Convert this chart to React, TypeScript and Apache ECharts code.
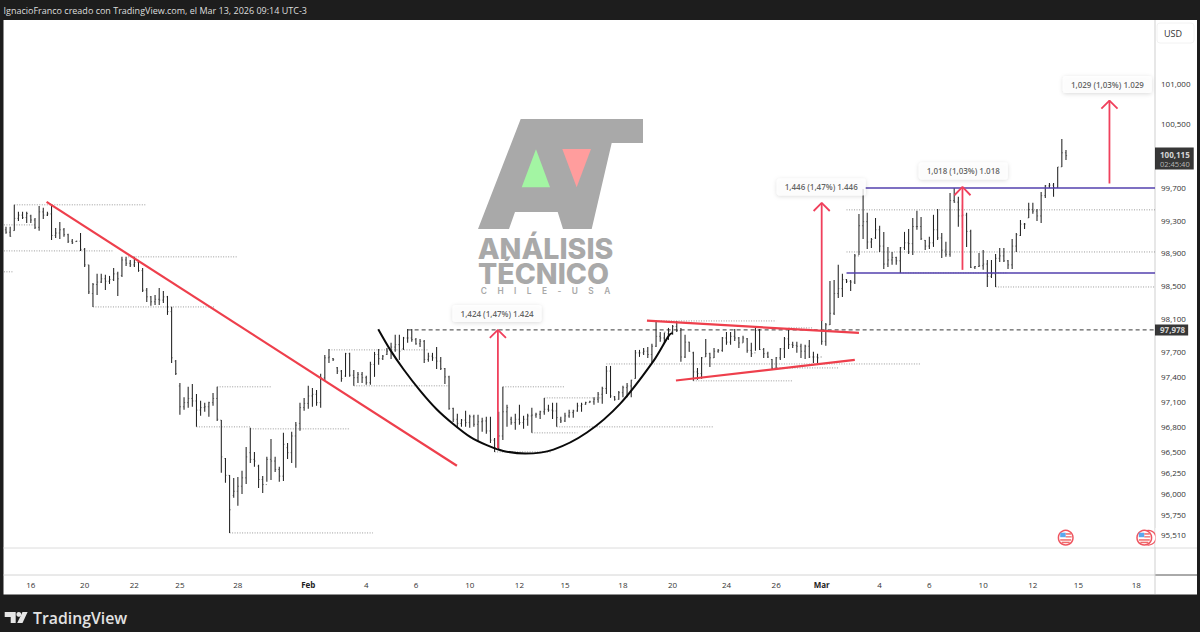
import React, { useEffect, useRef } from "react";
import * as echarts from "echarts";

const highs = [99236,99236,99507,99421,99421,99421,99384,99345,99494,99470,99421,99507,99223,99297,99223,99150,99088,99064,99162,98977,
98770,98549,98660,98660,98648,98635,98733,98685,98868,98868,98831,98868,98831,98733,98488,98391,98403,98488,98452,98391,
98258,97615,97337,97166,97290,97325,97204,97121,97097,97109,97216,97290,96892,96438,96235,96199,96211,96283,96569,96797,
96509,96355,96223,96450,96665,96450,96331,96737,96617,96749,96868,97097,97157,97302,97277,97253,97447,97675,97748,97639,
97530,97494,97700,97700,97494,97470,97470,97422,97591,97712,97748,97675,97760,97821,97918,97918,97893,97990,97990,97881,
97869,97857,97700,97700,97772,97651,97518,97422,97037,96965,96904,97001,96953,96953,96953,96917,96929,96929,96677,96989,
97290,97073,96929,96965,97073,96941,96965,97037,96977,97001,97157,97073,97097,97097,96929,96977,97013,97013,97097,97097,
97109,97121,97166,97228,97290,97542,97542,97180,97240,97302,97337,97374,97736,97736,97760,97772,97809,98087,97954,97942,
98002,98038,98087,98002,97918,97833,97712,97518,97651,97869,97700,97760,97748,97893,97954,97954,97990,97893,97906,97881,
97821,98002,97990,97760,97712,97627,97651,97760,97893,97990,97833,97833,97809,97797,97857,97712,97688,98099,98063,98574,
98586,98770,98660,98598,98586,98904,99395,99703,99408,99100,99345,99248,99174,98990,98928,98868,98990,99174,99211,99345,
99433,99358,99076,99113,99384,99457,99162,99052,99654,99715,99605,99507,99408,99199,98757,98916,98953,98831,98831,98904,
98977,98977,98831,99088,99162,99321,99284,99531,99531,99457,99666,99753,99777,99777,99975,100322,100185];

const lows = [99150,99113,99187,99309,99333,99284,99284,99211,99187,99333,99370,99076,99100,99088,99113,99039,99027,99052,98941,98745,
98415,98257,98403,98549,98464,98537,98574,98391,98623,98757,98745,98745,98685,98440,98318,98270,98282,98282,98306,98160,
97578,97432,96953,97013,97037,97049,96809,96941,96989,96929,97061,96880,96260,96140,95546,95962,95867,96009,96128,96378,
96331,96080,96020,96152,96175,96271,96152,96163,96426,96378,96319,96761,97001,97025,97049,97061,97037,97362,97578,97603,
97445,97350,97410,97410,97302,97337,97337,97314,97314,97410,97555,97615,97675,97627,97712,97615,97736,97821,97833,97797,
97772,97578,97591,97603,97506,97494,97325,97013,96868,96797,96809,96809,96797,96809,96641,96749,96725,96617,96509,96533,
96653,96809,96833,96773,96833,96785,96821,96737,96917,96904,96953,96989,96904,96809,96856,96868,96917,96917,96989,96989,
97073,97097,97073,97097,97085,97204,97157,97121,97133,97166,97166,97166,97386,97651,97675,97639,97578,97772,97833,97821,
97857,97918,97954,97591,97639,97712,97362,97374,97386,97651,97530,97639,97700,97712,97797,97797,97845,97760,97821,97700,
97651,97724,97736,97639,97639,97494,97518,97615,97639,97748,97760,97700,97639,97627,97639,97578,97578,97797,97785,98038,
98160,98367,98379,98549,98452,98537,98892,99088,98965,98977,99088,98928,98721,98745,98770,98770,98672,98953,98904,98892,
99199,99076,98953,98965,98990,99076,98855,98868,98868,99531,99236,99223,98990,98733,98721,98745,98709,98500,98610,98500,
98806,98806,98721,98721,98928,99125,99211,99345,99396,99309,99284,99592,99715,99605,99715,99975,100062];

const opens = [99200,99170,99190,99340,99380,99350,99370,99320,99230,99420,99380,99395,99130,99160,99200,99140,99060,99055,99060,98960,
98770,98420,98530,98560,98600,98570,98590,98660,98640,98830,98790,98770,98800,98700,98460,98380,98320,98350,98340,98380,
98200,97600,97300,97050,97100,97150,97120,97010,97040,97050,97100,97150,96890,96430,96230,95990,96040,96100,96200,96500,
96420,96340,96180,96120,96420,96400,96300,96220,96560,96500,96700,96850,97040,97090,97180,97200,97100,97400,97640,97630,
97520,97480,97420,97690,97430,97400,97440,97400,97340,97560,97680,97630,97680,97720,97770,97800,97750,97880,97880,97860,
97810,97840,97620,97660,97640,97600,97510,97410,97030,96900,96850,96890,96860,96930,96840,96870,96880,96760,96650,96560,
96700,96990,96900,96860,96900,96860,96900,96940,96950,96960,96990,97020,97010,97000,96900,96880,96940,96980,97000,97060,
97080,97100,97110,97140,97200,97270,97480,97170,97140,97220,97280,97300,97390,97700,97700,97720,97680,97780,97900,97880,
97930,97960,98020,97970,97650,97830,97700,97470,97450,97650,97690,97640,97720,97730,97880,97830,97900,97880,97820,97870,
97730,97700,97970,97740,97690,97620,97510,97640,97750,97870,97800,97790,97780,97720,97780,97650,97650,97650,97840,98040,
98180,98420,98480,98590,98570,98560,98880,99250,99300,99050,99100,99200,99000,98780,98830,98860,98820,98980,99040,99030,
99240,99240,99070,99000,99040,99200,99100,98950,98900,99560,99540,99370,99380,99180,98740,98750,98760,98780,98630,98660,
98850,98880,98820,98770,99000,99130,99270,99345,99450,99430,99370,99620,99740,99750,99720,99975,100150];

const closes = [99170,99120,99340,99380,99350,99400,99320,99230,99420,99380,99395,99130,99160,99200,99140,99060,99040,99060,98960,98770,
98440,98530,98560,98600,98570,98590,98660,98600,98830,98790,98770,98800,98700,98460,98380,98320,98350,98340,98380,98200,
97640,97450,97050,97100,97150,97120,97010,97040,97050,97100,97150,96900,96450,96230,95820,96040,96100,96200,96450,96420,
96400,96180,96120,96420,96400,96300,96220,96600,96500,96700,96830,97040,97090,97180,97200,97100,97400,97640,97650,97620,
97480,97390,97690,97430,97400,97440,97400,97340,97560,97680,97630,97660,97720,97770,97800,97720,97880,97880,97860,97810,
97840,97620,97660,97640,97600,97510,97410,97030,96900,96850,96890,96860,96930,96840,96870,96880,96760,96650,96560,96700,
96990,97040,96860,96900,96860,96900,96940,96950,96960,96990,97020,97010,97000,96920,96880,96940,96980,97000,97060,97080,
97100,97110,97140,97200,97270,97480,97180,97140,97220,97280,97300,97370,97700,97700,97720,97680,97780,97900,97880,97950,
97960,98020,97970,97650,97830,97720,97470,97450,97640,97690,97640,97720,97730,97880,97830,97900,97880,97820,97880,97730,
97690,97970,97740,97690,97650,97510,97640,97750,97870,97800,97790,97780,97720,97780,97650,97650,97640,97840,98040,98180,
98420,98480,98590,98570,98560,98880,99250,99300,99050,99080,99200,99000,98780,98830,98860,98820,98980,99040,99030,99240,
99240,99090,99000,99040,99200,99100,98950,98900,99560,99540,99370,99380,99180,98740,98750,98760,98780,98630,98660,98850,
98880,98820,98770,99000,99140,99270,99270,99450,99430,99370,99620,99740,99750,99720,99975,100150,100115];

const timeTickBars = [6,19,31,42,56,73,87,99,112,124,135,149,161,174,186,197,211,223,236,248,259,273];
const timeTickLabels = ["16","20","22","25","28","Feb","4","6","10","12","15","18","20","24","26","Mar","4","6","10","12","15","18"];
const priceTicks = [101000,100500,99700,99300,98900,98500,98100,97700,97400,97100,96800,96500,96250,96000,95750,95510];

// [first bar, last bar, price]
const dottedLevels = [
  [2,34,99507],[-0.5,7,99260],[-0.5,26,98941],[29.5,56,98868],[-0.5,1.7,98685],[21,50.5,98257],[51,64,97290],
  [46,59,96809],[59,83,96785],[54,88.6,95546],[78,102,97736],[84,107,97302],[120,134.8,97290],[130,144,97157],
  [145,221,97566],[133,171,96809],[127,138,96737],[118,131.6,96509],[166,190,97362],[185,201,97518],[157,186,98087],
  [189,195,98002],[203,277.5,99445],[203,277.5,98928],[239,277.5,98500],[216,242,98672],
];
const purpleLevels = [[207.5,277.5,99715],[203,277.5,98672]];
const lastPrice = 100115;
const dashedPrice = 97978;
const dashedStartBar = 97;
const redLines = [
  [[9.8,99543],[108.9,96344]],
  [[154.8,98090],[206,97942]],
  [[161.8,97366],[205,97615]],
];
// [bar, base price, tip price, price where the head's barbs end]
const arrows = [
  [118.8,96554,97978,97881],
  [197,98085,99531,99431],
  [231,98709,99727,99625],
  [266.5,99770,100800,100700],
];
const roundPoints = [
  [89.9,97986],[92.8,97736],[96,97502],[100,97245],[104,97021],[108,96844],[112.1,96689],[116.1,96590],[120.1,96521],
  [125.4,96489],[132.2,96537],[140.3,96741],[148.3,97085],[156.4,97603],[160.2,97918],[161,97942],
];
const callouts = [
  [118.6,98178,"1,424 (1,47%) 1.424"],
  [196.9,99727,"1,446 (1,47%) 1.446"],
  [231.2,99926,"1,018 (1,03%) 1.018"],
  [266,101000,"1,029 (1,03%) 1.029"],
];

const FONT = '"Open Sans", sans-serif';
const RED = "#ee3f4c";
const ARROW = "#f0405c";

function lineSeries(data: any[], color: string, width: number, extra: any = {}) {
  return {
    type: "line", data, symbol: "none", silent: true, clip: true, animation: false,
    lineStyle: { color, width, ...(extra.lineStyle || {}) },
    z: extra.z ?? 3, smooth: extra.smooth ?? false,
  };
}

function flag(cx: number, cy: number): any[] {
  return [
    { type: "circle", z: 5, shape: { cx, cy, r: 7.3 }, style: { fill: "#fff", stroke: "#ef5560", lineWidth: 1.5 } },
    { type: "rect", z: 5, shape: { x: cx - 5.5, y: cy - 5, width: 5.5, height: 4.5 }, style: { fill: "#5ba8ef" } },
    { type: "rect", z: 5, shape: { x: cx, y: cy - 4.5, width: 5.5, height: 1.5 }, style: { fill: "#ef6a6a" } },
    { type: "rect", z: 5, shape: { x: cx, y: cy - 1.5, width: 6, height: 1.3 }, style: { fill: "#ef6a6a" } },
    { type: "rect", z: 5, shape: { x: cx - 5.5, y: cy + 1.5, width: 11, height: 1.5 }, style: { fill: "#ef6a6a" } },
    { type: "rect", z: 5, shape: { x: cx - 4, y: cy + 4, width: 8, height: 1.5 }, style: { fill: "#ef6a6a" } },
  ];
}

export default function App() {
  const ref = useRef<HTMLDivElement>(null);
  useEffect(() => {
    document.body.style.margin = "0";
    const chart = echarts.init(ref.current!, null, { renderer: "svg" });
    const LOGO = "#a9a9a9";
    const graphic: any[] = [
      { type: "rect", z: -5, shape: { x: 3.5, y: 20, width: 1193.5, height: 574.5 }, style: { fill: "#fff" } },
      { type: "line", z: 1, shape: { x1: 3.5, y1: 548, x2: 1197, y2: 548 }, style: { stroke: "#dcdcdc", lineWidth: 1 } },
      { type: "line", z: 1, shape: { x1: 3.5, y1: 575, x2: 1155, y2: 575 }, style: { stroke: "#d4d4d4", lineWidth: 1 } },
      { type: "line", z: 1, shape: { x1: 1155, y1: 575, x2: 1197, y2: 575 }, style: { stroke: "#555", lineWidth: 1 } },
      { type: "line", z: 1, shape: { x1: 1155, y1: 20, x2: 1155, y2: 594 }, style: { stroke: "#cfcfcf", lineWidth: 1 } },
      { type: "rect", z: 1, shape: { x: 1157, y: 23, width: 37, height: 20, r: 3 }, style: { fill: "#fff", stroke: "#f2f2f2", lineWidth: 1 } },
      { type: "text", z: 6, x: 1173, y: 33, style: { text: "USD", fill: "#333", font: `9px ${FONT}`, align: "center", verticalAlign: "middle" } },
      { type: "text", z: 6, x: 3.5, y: 10, style: { text: "IgnacioFranco creado con TradingView.com, el Mar 13, 2026 09:14 UTC-3", fill: "#dedede", font: `9px ${FONT}`, align: "left", verticalAlign: "middle" } },
      // logo
      { type: "polygon", z: 1, shape: { points: [[520.7,119],[643,119],[643,143],[611.7,143],[591.7,229],[563,229],[557.7,212],[515,212],[509,229],[478,229]] }, style: { fill: LOGO } },
      { type: "polygon", z: 1, shape: { points: [[536,149.3],[550,187.3],[521.7,187.3]] }, style: { fill: "#a3f5a3" } },
      { type: "polygon", z: 1, shape: { points: [[562.3,149],[591,149],[576.7,187.3]] }, style: { fill: "#ff9d9d" } },
      { type: "text", z: 1, x: 545.5, y: 248, style: { text: "ANÁLISIS", fill: LOGO, font: `800 28.5px Inter, sans-serif`, align: "center", verticalAlign: "middle" } },
      { type: "text", z: 1, x: 543.5, y: 273.5, style: { text: "TÉCNICO", fill: LOGO, font: `800 28.5px Inter, sans-serif`, align: "center", verticalAlign: "middle" } },
      { type: "text", z: 1, x: 545.5, y: 290.5, style: { text: "C     H     I     L     E     -     U     S     A", fill: LOGO, font: `600 8.3px Inter, sans-serif`, align: "center", verticalAlign: "middle" } },
      // TradingView brand
      { type: "polygon", z: 6, shape: { points: [[4.7,612],[15.7,612],[15.7,623],[10.7,623],[10.7,617],[4.7,617]] }, style: { fill: "#e6e6e6" } },
      { type: "circle", z: 6, shape: { cx: 18.8, cy: 614.4, r: 2.4 }, style: { fill: "#e6e6e6" } },
      { type: "polygon", z: 6, shape: { points: [[22.5,612],[27.6,612],[22.5,623],[17.2,623]] }, style: { fill: "#e6e6e6" } },
      { type: "text", z: 6, x: 33, y: 618, style: { text: "TradingView", fill: "#e2e2e2", font: `600 15.8px ${FONT}`, align: "left", verticalAlign: "middle" } },
      ...flag(1065.7, 537.7),
      { type: "circle", z: 4, shape: { cx: 1148.5, cy: 537.7, r: 7.3 }, style: { fill: "#fff", stroke: "#ef5560", lineWidth: 1.2 } },
      ...flag(1144.3, 537.7),
      { type: "rect", z: 5, shape: { x: 1155.5, y: 528, width: 3, height: 19 }, style: { fill: "#fff" } },
    ];

    const renderBar = (_: any, api: any) => {
      const x = api.value(0);
      const [cx, hy] = api.coord([x, api.value(2)]);
      const [, ly] = api.coord([x, api.value(3)]);
      const [, oy] = api.coord([x, api.value(1)]);
      const [, cy] = api.coord([x, api.value(4)]);
      const style = { stroke: "#222", lineWidth: 1.05 };
      const tick = { stroke: "#333", lineWidth: 0.6 };
      return {
        type: "group",
        children: [
          { type: "line", shape: { x1: cx, y1: hy, x2: cx, y2: ly }, style },
          { type: "line", shape: { x1: cx - 1.1, y1: oy, x2: cx, y2: oy }, style: tick },
          { type: "line", shape: { x1: cx, y1: cy, x2: cx + 1.1, y2: cy }, style: tick },
        ],
      };
    };

    const series: any[] = [];
    dottedLevels.forEach((d) =>
      series.push(lineSeries([[d[0], d[2]], [d[1], d[2]]], "#8f8f8f", 0.9, { lineStyle: { type: [1, 1.5] }, z: 2 })),
    );
    series.push({
      type: "custom", renderItem: renderBar, silent: true, z: 3,
      encode: { x: 0, y: [1, 2, 3, 4] },
      data: highs.map((h, i) => [i, opens[i], h, lows[i], closes[i]]),
    });
    series.push(lineSeries([[dashedStartBar, dashedPrice], [277.5, dashedPrice]], "#222", 0.9, { lineStyle: { type: [4, 3] }, z: 4 }));
    purpleLevels.forEach((d) => series.push(lineSeries([[d[0], d[2]], [d[1], d[2]]], "#5340ae", 1.5, { z: 4 })));
    series.push(lineSeries(roundPoints, "#0a0a0a", 2, { smooth: 0.3, z: 5 }));
    redLines.forEach((d) => series.push(lineSeries(d, RED, 2.2, { z: 5 })));
    arrows.forEach((a) => {
      series.push(lineSeries([[a[0], a[1]], [a[0], a[2]]], ARROW, 1.8, { z: 6 }));
      series.push(lineSeries([[a[0] - 1.95, a[3]], [a[0], a[2]], [a[0] + 1.95, a[3]]], ARROW, 1.8, { z: 6 }));
    });
    series.push({
      type: "scatter", symbolSize: 0, silent: true, clip: false, z: 7,
      data: callouts.map((c) => ({ value: [c[0], c[1]], name: c[2] })),
      label: {
        show: true, position: "inside", formatter: "{b}", color: "#3a3a3a", fontFamily: FONT, fontSize: 8, fontWeight: 600,
        backgroundColor: "#fff", borderRadius: 3, padding: [4.5, 8], shadowBlur: 4, shadowColor: "rgba(0,0,0,0.18)", shadowOffsetY: 1,
      },
    });
    series.push({
      type: "scatter", symbolSize: 0, silent: true, clip: false, z: 8,
      data: [{ value: [277.5, dashedPrice], name: "97,978" }],
      label: {
        show: true, position: "right", distance: 0, formatter: "{b}", color: "#fff", fontFamily: FONT, fontSize: 8, fontWeight: 700,
        backgroundColor: "#050505", padding: [1.5, 3, 1.5, 5],
      },
    });
    series.push({
      type: "scatter", symbolSize: 0, silent: true, clip: false, z: 8,
      data: [{ value: [277.5, lastPrice], name: "100,115" }],
      label: {
        show: true, position: "right", distance: 0, offset: [0, 3], formatter: "{a|{b}}\n{c|02:45:40}",
        backgroundColor: "#050505", padding: [2, 4, 1, 5], align: "left",
        rich: {
          a: { color: "#fff", fontFamily: FONT, fontSize: 8, fontWeight: 700, lineHeight: 10, align: "center" },
          c: { color: "#d8d8d8", fontFamily: FONT, fontSize: 7.5, lineHeight: 9, align: "center" },
        },
      },
    });

    chart.setOption({
      animation: false,
      backgroundColor: "#1d1d1d",
      graphic: { elements: graphic },
      grid: { left: 3.93, width: 1151.07, top: 20, height: 528, containLabel: false },
      tooltip: { show: false },
      xAxis: {
        type: "value", min: -0.5, max: 277.5,
        axisLine: { show: false }, axisTick: { show: false }, splitLine: { show: false },
        axisLabel: {
          customValues: timeTickBars,
          margin: 32, color: "#333", fontFamily: FONT, fontSize: 8, hideOverlap: false, showMinLabel: true, showMaxLabel: true,
          formatter: (v: number) => {
            const t = timeTickLabels[timeTickBars.indexOf(Math.round(v))] ?? "";
            return t === "Feb" || t === "Mar" ? `{b|${t}}` : t;
          },
          rich: { b: { fontWeight: 700, color: "#222", fontFamily: FONT, fontSize: 8 } },
        },
      },
      yAxis: {
        type: "log", logBase: 10, position: "right", min: 95368, max: 101810, z: 10,
        axisLine: { show: false }, axisTick: { show: false }, splitLine: { show: false },
        axisLabel: {
          customValues: priceTicks,
          margin: 6, color: "#333", fontFamily: FONT, fontSize: 8, align: "left", hideOverlap: false,
          formatter: (v: number) => `{p|${Math.round(v).toLocaleString("en-US")}}`,
          rich: { p: { color: "#333", fontFamily: FONT, fontSize: 8, padding: [0, 0, 3, 0] } },
        },
      },
      series,
    });
    return () => chart.dispose();
  }, []);
  return <div ref={ref} style={{ width: 1200, height: 632 }} />;
}
